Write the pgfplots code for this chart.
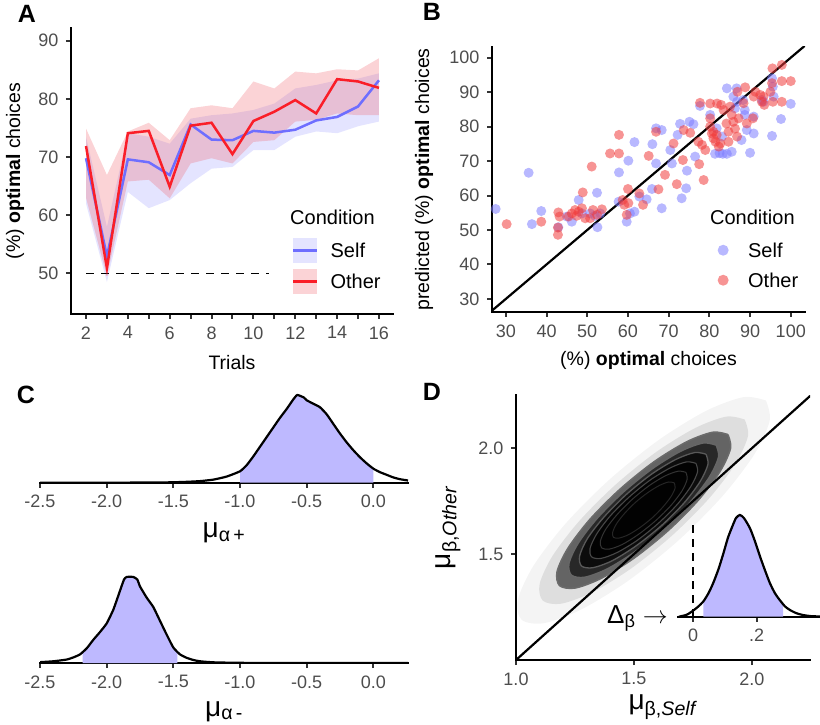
\documentclass[border=0pt]{standalone}
\usepackage{fontspec}
\setmainfont{Liberation Sans}
\usepackage{pgfplots}
\pgfplotsset{compat=1.18}

\definecolor{selfln}{RGB}{110,110,255}
\definecolor{otherln}{RGB}{250,30,40}
\definecolor{selfrib}{RGB}{120,120,255}
\definecolor{otherrib}{RGB}{240,80,90}
\definecolor{selfpt}{RGB}{125,125,255}
\definecolor{otherpt}{RGB}{240,60,60}
\definecolor{densfill}{RGB}{190,185,255}
\definecolor{tickgray}{RGB}{77,77,77}

\newcommand{\tickfont}{\fontsize{18}{20}\selectfont}
\newcommand{\labfont}{\fontsize{19.5}{22}\selectfont}
\newcommand{\legfont}{\fontsize{20}{22}\selectfont}
\newcommand{\mufont}{\fontsize{28}{30}\selectfont}
\newcommand{\letfont}{\fontsize{25}{27}\selectfont\bfseries}

\pgfplotsset{
  gg/.style={
    scale only axis, anchor=south west,
    axis x line*=bottom, axis y line*=left,
    axis line style={-, line width=2.3pt, line cap=rect},
    tick style={line width=2pt, black!80},
    tick align=outside, major tick length=5pt,
    ticklabel style={font=\tickfont, text=tickgray},
    xticklabel style={yshift=-4pt},
    yticklabel style={xshift=-4pt},
    /pgf/number format/assume math mode=true,
    label style={font=\labfont},
  },
  leg/.style={
    legend style={draw=none, fill=none, inner sep=0pt, font=\legfont,
      nodes={inner sep=0pt, text depth=0pt},
      /tikz/every odd column/.append style={column sep=#1}},
    legend cell align=left,
  },
}

\begin{document}
\begin{tikzpicture}
\useasboundingbox (0,0) rectangle (820pt,724pt);

% ---------------- Panel A ----------------
\begin{axis}[gg, at={(71pt,410pt)}, width=322pt, height=286pt,
  xmin=1.283, xmax=16.67, ymin=43, ymax=92.2,
  xtick={2,3,...,16}, xticklabels={2,,4,,6,,8,,10,,12,,14,,16},
  ytick={50,60,70,80,90},
  xlabel={Trials}, ylabel={(\%) \textbf{optimal} choices},
  xlabel style={at={(axis description cs:0.5,-0.168)}, anchor=center},
  ylabel style={at={(axis description cs:-0.174,0.5)}, anchor=center},
  leg=12pt, legend style={at={(axis cs:11.84,56.07)}, anchor=north west, row sep=6pt},
]
\addplot[fill=selfrib, fill opacity=0.2, draw=none, forget plot] coordinates {
 (2,73.5)(3,58.0)(4,74.1)(5,73.5)(6,72.3)(7,76.6)(8,77.2)(9,77.5)(10,78.1)(11,79.2)(12,81.8)(13,82.4)(14,83.2)(15,83.5)(16,84.4)
 (16,76.1)(15,75.3)(14,74.1)(13,74.4)(12,73.5)(11,71.2)(10,71.2)(9,68.3)(8,68.0)(7,65.5)(6,62.6)(5,61.2)(4,64.0)(3,48.5)(2,62.0)};
\addplot[fill=otherrib, fill opacity=0.25, draw=none, forget plot] coordinates {
 (2,74.9)(3,66.9)(4,74.4)(5,75.9)(6,72.9)(7,78.4)(8,78.9)(9,78.4)(10,83.0)(11,81.8)(12,84.7)(13,84.4)(14,85.1)(15,84.9)(16,87.0)
 (16,77.2)(15,77.2)(14,77.5)(13,76.4)(12,76.1)(11,72.9)(10,72.6)(9,68.9)(8,69.8)(7,68.9)(6,62.9)(5,66.1)(4,65.8)(3,49.5)(2,63.0)};
\addplot[black, line width=1.6pt, dash pattern=on 8pt off 7pt, forget plot] coordinates {(2,50)(10.75,50)};
\addplot[selfln, line width=2.5pt, forget plot] coordinates {
 (2,69.8)(3,52.9)(4,69.6)(5,69.1)(6,66.9)(7,75.6)(8,73.0)(9,72.9)(10,74.5)(11,74.2)(12,74.7)(13,76.3)(14,76.9)(15,78.7)(16,83.2)};
\addplot[otherln, line width=2.5pt, forget plot] coordinates {
 (2,71.9)(3,50.9)(4,74.1)(5,74.5)(6,64.9)(7,75.4)(8,75.9)(9,70.5)(10,76.2)(11,77.8)(12,79.8)(13,77.5)(14,83.4)(15,83.0)(16,81.9)};
\addlegendimage{legend image code/.code={\fill[selfrib, fill opacity=0.2, draw=none] (0pt,-12.5pt) rectangle (24pt,12.5pt); \draw[selfln, line width=2.5pt] (0pt,0pt) -- (24pt,0pt);}}
\addlegendentry{Self}
\addlegendimage{legend image code/.code={\fill[otherrib, fill opacity=0.25, draw=none] (0pt,-12.5pt) rectangle (24pt,12.5pt); \draw[otherln, line width=2.5pt] (0pt,0pt) -- (24pt,0pt);}}
\addlegendentry{Other}
\node[anchor=west, font=\legfont, inner sep=0pt] at (axis cs:11.75,59.68) {Condition};
\end{axis}

% ---------------- Panel B ----------------
\begin{axis}[gg, at={(492pt,412pt)}, width=313pt, height=265pt,
  xmin=26.6, xmax=103.5, ymin=26.2, ymax=103.1,
  xtick={30,40,...,100}, ytick={30,40,...,100},
  xlabel={(\%) \textbf{optimal} choices}, ylabel={predicted (\%) \textbf{optimal} choices},
  xlabel style={at={(axis description cs:0.5,-0.181)}, anchor=center},
  ylabel style={at={(axis description cs:-0.217,0.5)}, anchor=center},
  leg=19.5pt, legend style={at={(axis cs:81.99,47.81)}, anchor=north west, row sep=5pt},
]
\addplot[only marks, mark=*, mark size=5pt, selfpt, fill opacity=0.55, draw opacity=0, forget plot] coordinates {
(27.5,56.1)(35.6,66.6)(36.4,51.7)(38.7,55.5)(42.9,50.8)(45.0,53.9)(46.2,52.4)(47.9,58.7)(48.7,54.8)(50.7,54.8)(51.9,54.1)(52.4,60.8)(52.5,50.8)(53.2,54.8)(57.7,58.2)(57.8,66.7)(59.7,52.4)(60.1,70.1)(60.5,54.8)(61.6,55.3)(61.6,75.5)(62.8,59.7)(64.6,58.9)(65.9,61.9)(66.0,74.9)(66.9,79.5)(66.9,69.3)(68.3,79.0)(68.3,56.3)(70.4,73.2)(70.8,69.3)(72.2,77.6)(72.8,80.8)(73.2,59.2)(74.3,62.1)(74.5,67.2)(75.1,81.4)(76.1,80.7)(76.5,71.3)(77.7,86.0)(80.2,83.4)(81.4,72.1)(81.8,79.5)(82.5,72.3)(83.1,77.1)(83.3,72.1)(84.3,91.1)(84.3,72.1)(85.5,72.7)(85.9,88.7)(86.3,85.3)(86.7,91.1)(86.8,87.2)(87.9,76.1)(88.3,87.7)(88.7,84.8)(88.7,83.4)(89.2,79.0)(90.0,72.4)(90.9,78.0)(90.9,82.9)(92.9,87.7)(93.3,87.2)(95.4,77.3)(95.4,94.0)(95.6,91.6)(95.8,88.7)(97.6,82.2)(100,86.6)};
\addplot[only marks, mark=*, mark size=5pt, otherpt, fill opacity=0.55, draw opacity=0, forget plot] coordinates {
(30.2,51.7)(38.7,52.4)(42.8,50.7)(42.8,48.6)(42.9,55.1)(43.2,53.9)(45.4,53.9)(46.2,54.8)(47.0,55.8)(47.4,54.1)(47.9,55.3)(48.7,56.3)(48.9,60.9)(49.5,53.4)(50.7,53.4)(51.1,68.4)(51.4,55.8)(52.4,54.4)(53.6,56.0)(55.6,72.2)(57.8,77.6)(57.8,72.2)(58.7,58.7)(59.1,57.3)(59.7,54.4)(60.0,61.9)(60.1,57.8)(62.8,60.6)(63.7,57.3)(65.1,71.5)(66.9,78.5)(67.5,61.8)(69.1,66.0)(71.2,75.1)(72.0,63.3)(73.5,70.3)(73.7,79.0)(75.3,78.2)(77.3,75.6)(77.5,69.1)(77.7,86.9)(78.2,74.7)(78.6,64.5)(79.0,73.2)(80.2,82.4)(80.2,86.7)(80.2,80.0)(80.6,78.0)(81.0,76.6)(81.0,78.5)(81.5,75.6)(81.8,77.6)(81.9,86.7)(82.3,74.2)(82.7,75.1)(82.9,86.3)(83.5,84.8)(84.2,80.9)(84.7,78.5)(84.7,75.6)(85.1,85.8)(85.5,83.4)(85.9,81.4)(86.3,79.4)(86.8,77.1)(86.9,90.1)(87.2,82.4)(88.4,86.8)(88.8,91.4)(89.2,80.9)(90.7,82.4)(90.9,88.7)(91.3,90.1)(92.5,89.2)(92.9,87.2)(93.3,88.7)(93.5,86.3)(95.0,90.1)(95.4,92.6)(95.5,96.9)(95.6,87.2)(97.8,97.9)(97.8,93.2)(97.8,87.2)(100,93.2)};
\addplot[black, line width=2.2pt, forget plot] coordinates {(26.2,26.2)(103.5,103.5)};
\addlegendimage{legend image code/.code={\path[draw=none, fill=none] (0pt,-12.5pt) rectangle (11pt,12.5pt); \fill[selfpt, fill opacity=0.55, draw=none] (5.5pt,0pt) circle (5.5pt);}}
\addlegendentry{Self}
\addlegendimage{legend image code/.code={\path[draw=none, fill=none] (0pt,-12.5pt) rectangle (11pt,12.5pt); \fill[otherpt, fill opacity=0.55, draw=none] (5.5pt,0pt) circle (5.5pt);}}
\addlegendentry{Other}
\node[anchor=west, font=\legfont, inner sep=0pt] at (axis cs:80.15,53.75) {Condition};
\end{axis}

% ---------------- Panel C (top) ----------------
\begin{axis}[gg, at={(40pt,241.3pt)}, width=368pt, height=93pt,
  axis y line=none,
  xmin=-2.5, xmax=0.26, ymin=0, ymax=1.06,
  xtick={-2.5,-2,-1.5,-1,-0.5,0}, xticklabels={-2.5,-2.0,-1.5,-1.0,-0.5,0.0},
  xlabel={\mufont μ\textsubscript{α\,+}},
  xlabel style={at={(axis description cs:0.5,-0.54)}, anchor=center, inner sep=0pt},
]
\addplot[fill=densfill, draw=none] coordinates {
(-1.0,0)(-1.0,0.13)(-0.95,0.2)(-0.9,0.3)(-0.85,0.41)(-0.8,0.52)(-0.75,0.63)(-0.7,0.74)(-0.65,0.84)(-0.6,0.95)(-0.57,1.0)(-0.52,0.97)(-0.5,0.94)(-0.45,0.9)(-0.4,0.86)(-0.35,0.78)(-0.3,0.67)(-0.25,0.56)(-0.2,0.46)(-0.15,0.37)(-0.1,0.29)(-0.05,0.22)(0.0,0.16)(0.0,0)};
\addplot[black, line width=2.2pt, smooth, tension=0.3] coordinates {
(-2.5,0)(-2.0,0)(-1.6,0.003)(-1.5,0.005)(-1.4,0.01)(-1.3,0.018)(-1.2,0.035)(-1.1,0.07)(-1.0,0.13)(-0.95,0.2)(-0.9,0.3)(-0.85,0.41)(-0.8,0.52)(-0.75,0.63)(-0.7,0.74)(-0.65,0.84)(-0.6,0.95)(-0.57,1.0)(-0.52,0.97)(-0.5,0.94)(-0.45,0.9)(-0.4,0.86)(-0.35,0.78)(-0.3,0.67)(-0.25,0.56)(-0.2,0.46)(-0.15,0.37)(-0.1,0.29)(-0.05,0.22)(0.0,0.16)(0.05,0.12)(0.1,0.09)(0.15,0.06)(0.2,0.04)(0.26,0.025)};
\end{axis}

% ---------------- Panel C (bottom) ----------------
\begin{axis}[gg, at={(40pt,61pt)}, width=368pt, height=91.2pt,
  axis y line=none,
  xmin=-2.5, xmax=0.26, ymin=0, ymax=1.06,
  xtick={-2.5,-2,-1.5,-1,-0.5,0}, xticklabels={-2.5,-2.0,-1.5,-1.0,-0.5,0.0},
  xlabel={\mufont μ\textsubscript{α\,-}},
  xlabel style={at={(axis description cs:0.5,-0.53)}, anchor=center, inner sep=0pt},
]
\addplot[fill=densfill, draw=none] coordinates {
(-2.18,0)(-2.18,0.128)(-2.15,0.17)(-2.1,0.27)(-2.05,0.36)(-2.0,0.46)(-1.95,0.62)(-1.9,0.84)(-1.87,0.97)(-1.85,1.0)(-1.8,1.0)(-1.77,0.97)(-1.75,0.89)(-1.7,0.76)(-1.65,0.65)(-1.6,0.49)(-1.55,0.33)(-1.5,0.18)(-1.47,0.132)(-1.47,0)};
\addplot[black, line width=2.2pt, smooth, tension=0.3] coordinates {
(-2.5,0.01)(-2.4,0.02)(-2.3,0.04)(-2.25,0.065)(-2.2,0.1)(-2.15,0.17)(-2.1,0.27)(-2.05,0.36)(-2.0,0.46)(-1.95,0.62)(-1.9,0.84)(-1.87,0.97)(-1.85,1.0)(-1.8,1.0)(-1.77,0.97)(-1.75,0.89)(-1.7,0.76)(-1.65,0.65)(-1.6,0.49)(-1.55,0.33)(-1.5,0.18)(-1.45,0.1)(-1.4,0.06)(-1.35,0.035)(-1.3,0.02)(-1.2,0.008)(-1.0,0.002)(-0.5,0)(0.26,0)};
\end{axis}

% ---------------- Panel D ----------------
\begin{axis}[gg, at={(516pt,64pt)}, width=294pt, height=265pt,
  xmin=1, xmax=2.247, ymin=1, ymax=2.252,
  xtick={1,1.5,2}, xticklabels={1.0,1.5,2.0},
  ytick={1.5,2}, yticklabels={1.5,2.0},
  xlabel={\mufont μ\textsubscript{β,\textit{Self}}},
  ylabel={\mufont μ\textsubscript{β,\textit{Other}}},
  xlabel style={at={(axis description cs:0.5,-0.178)}, anchor=center, inner sep=0pt},
  ylabel style={at={(axis description cs:-0.231,0.5)}, anchor=center, inner sep=0pt},
]
% density cloud (scale 1.45, 1.2, 1.0, 0.86, 0.74, 0.62)
\addplot[fill=black, fill opacity=0.045, draw=none, smooth] coordinates {
(2.060,2.226)(1.965,2.242)(1.806,2.177)(1.606,2.040)(1.397,1.853)(1.210,1.644)(1.074,1.445)(1.008,1.285)(1.024,1.190)(1.119,1.174)(1.279,1.240)(1.478,1.376)(1.687,1.563)(1.874,1.772)(2.011,1.972)(2.076,2.131)(2.060,2.226)};
\addplot[fill=black, fill opacity=0.09, draw=none, smooth] coordinates {
(1.970,2.136)(1.892,2.150)(1.760,2.096)(1.595,1.983)(1.422,1.828)(1.267,1.655)(1.154,1.490)(1.100,1.358)(1.114,1.280)(1.192,1.266)(1.324,1.320)(1.489,1.433)(1.662,1.588)(1.817,1.761)(1.930,1.926)(1.984,2.058)(1.970,2.136)};
\addplot[fill=black, fill opacity=0.55, draw=none, smooth] coordinates {
(1.899,2.065)(1.834,2.076)(1.724,2.031)(1.586,1.937)(1.442,1.808)(1.313,1.664)(1.219,1.526)(1.174,1.417)(1.185,1.351)(1.251,1.340)(1.360,1.385)(1.498,1.479)(1.642,1.608)(1.771,1.752)(1.865,1.890)(1.910,2.000)(1.899,2.065)};
\addplot[fill=black, fill opacity=0.6, draw=none, smooth] coordinates {
(1.849,2.015)(1.793,2.025)(1.698,1.986)(1.580,1.905)(1.456,1.794)(1.345,1.670)(1.264,1.552)(1.225,1.457)(1.235,1.401)(1.291,1.391)(1.386,1.430)(1.504,1.511)(1.628,1.622)(1.739,1.746)(1.820,1.864)(1.859,1.959)(1.849,2.015)};
\addplot[fill=black, fill opacity=0.7, draw=none, smooth] coordinates {
(1.806,1.972)(1.758,1.980)(1.677,1.947)(1.575,1.878)(1.468,1.782)(1.373,1.675)(1.303,1.574)(1.270,1.492)(1.278,1.444)(1.326,1.436)(1.408,1.469)(1.509,1.539)(1.616,1.634)(1.712,1.741)(1.781,1.843)(1.814,1.924)(1.806,1.972)};
\addplot[fill=black, fill opacity=0.8, draw=none, smooth] coordinates {
(1.763,1.929)(1.723,1.936)(1.655,1.908)(1.569,1.850)(1.480,1.770)(1.400,1.681)(1.342,1.595)(1.314,1.527)(1.321,1.487)(1.361,1.480)(1.429,1.508)(1.515,1.566)(1.604,1.646)(1.684,1.735)(1.742,1.821)(1.770,1.889)(1.763,1.929)};
% contour lines
\addplot[black!58, line width=1.5pt, smooth] coordinates {
(1.899,2.065)(1.834,2.076)(1.724,2.031)(1.586,1.937)(1.442,1.808)(1.313,1.664)(1.219,1.526)(1.174,1.417)(1.185,1.351)(1.251,1.340)(1.360,1.385)(1.498,1.479)(1.642,1.608)(1.771,1.752)(1.865,1.890)(1.910,2.000)(1.899,2.065)};
\addplot[black!60, line width=1.4pt, smooth] coordinates {
(1.849,2.015)(1.793,2.025)(1.698,1.986)(1.580,1.905)(1.456,1.794)(1.345,1.670)(1.264,1.552)(1.225,1.457)(1.235,1.401)(1.291,1.391)(1.386,1.430)(1.504,1.511)(1.628,1.622)(1.739,1.746)(1.820,1.864)(1.859,1.959)(1.849,2.015)};
\addplot[black!65, line width=1.3pt, smooth] coordinates {
(1.806,1.972)(1.758,1.980)(1.677,1.947)(1.575,1.878)(1.468,1.782)(1.373,1.675)(1.303,1.574)(1.270,1.492)(1.278,1.444)(1.326,1.436)(1.408,1.469)(1.509,1.539)(1.616,1.634)(1.712,1.741)(1.781,1.843)(1.814,1.924)(1.806,1.972)};
\addplot[black!72, line width=1.1pt, smooth] coordinates {
(1.763,1.929)(1.723,1.936)(1.655,1.908)(1.569,1.850)(1.480,1.770)(1.400,1.681)(1.342,1.595)(1.314,1.527)(1.321,1.487)(1.361,1.480)(1.429,1.508)(1.515,1.566)(1.604,1.646)(1.684,1.735)(1.742,1.821)(1.770,1.889)(1.763,1.929)};
\addplot[black!80, line width=1pt, smooth] coordinates {
(1.7205,1.8865)(1.688,1.892)(1.633,1.870)(1.564,1.823)(1.492,1.758)(1.428,1.686)(1.380,1.617)(1.358,1.562)(1.3635,1.5295)(1.396,1.524)(1.451,1.546)(1.520,1.594)(1.592,1.658)(1.657,1.730)(1.704,1.799)(1.726,1.854)(1.7205,1.8865)};
\addplot[black!85, line width=1pt, smooth] coordinates {
(1.671,1.837)(1.647,1.841)(1.607,1.824)(1.558,1.790)(1.506,1.744)(1.460,1.692)(1.426,1.643)(1.410,1.603)(1.4135,1.5795)(1.437,1.576)(1.477,1.592)(1.526,1.626)(1.578,1.672)(1.624,1.724)(1.658,1.773)(1.675,1.813)(1.671,1.837)};
\addplot[black, line width=2.2pt] coordinates {(1,1)(2.252,2.252)};
\end{axis}

% ---------------- Panel D inset ----------------
\begin{axis}[gg, at={(678.3pt,107.3pt)}, width=141.7pt, height=106.8pt,
  axis y line=none,
  xmin=-0.047, xmax=0.4, ymin=0, ymax=1.05,
  xtick={0,0.2}, xticklabels={0,.2},
]
\addplot[fill=densfill, draw=none] coordinates {
(0.032,0)(0.032,0.15)(0.048,0.23)(0.063,0.33)(0.08,0.47)(0.095,0.62)(0.11,0.78)(0.125,0.9)(0.135,0.97)(0.147,1.0)(0.16,0.97)(0.179,0.87)(0.195,0.74)(0.211,0.59)(0.226,0.46)(0.242,0.33)(0.258,0.23)(0.274,0.16)(0.284,0.125)(0.284,0)};
\addplot[black, line width=2.2pt, smooth, tension=0.4] coordinates {
(-0.045,0)(-0.02,0.02)(0.0,0.06)(0.016,0.1)(0.032,0.15)(0.048,0.23)(0.063,0.33)(0.08,0.47)(0.095,0.62)(0.11,0.78)(0.125,0.9)(0.135,0.97)(0.147,1.0)(0.16,0.97)(0.179,0.87)(0.195,0.74)(0.211,0.59)(0.226,0.46)(0.242,0.33)(0.258,0.23)(0.274,0.16)(0.29,0.1)(0.305,0.066)(0.325,0.035)(0.347,0.016)(0.37,0.006)(0.4,0.002)};
\addplot[black, line width=2.2pt, dash pattern=on 8pt off 6pt] coordinates {(0,0)(0,0.95)};
\end{axis}

\node[anchor=base west, font=\fontsize{26}{28}\selectfont, inner sep=0pt] at (607pt,101pt) {Δ\textsubscript{β} $\rightarrow$};

% panel letters
\node[font=\letfont] at (27pt,710pt) {A};
\node[font=\letfont] at (432pt,712pt) {B};
\node[font=\letfont] at (26pt,329pt) {C};
\node[font=\letfont] at (432pt,332pt) {D};
\end{tikzpicture}
\end{document}
